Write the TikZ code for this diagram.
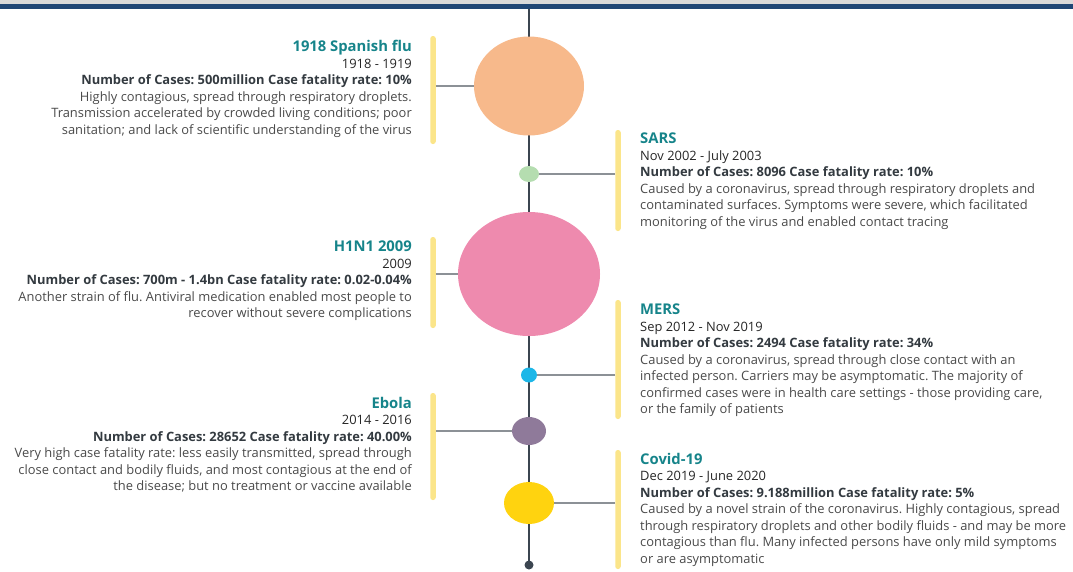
\documentclass[tikz,border=0pt]{standalone}
\usepackage{fontspec}
\setmainfont{Open Sans}
\usetikzlibrary{shapes.geometric}
\frenchspacing
\definecolor{navy}{HTML}{1F4675}
\definecolor{topgray}{HTML}{D9D9D9}
\definecolor{tline}{HTML}{3B4550}
\definecolor{conncol}{HTML}{8C9196}
\definecolor{barcol}{HTML}{FBE58A}
\definecolor{titlecol}{HTML}{16848A}
\definecolor{bodycol}{HTML}{4A4A4A}
\definecolor{datecol}{HTML}{262626}
\definecolor{numcol}{HTML}{333A40}
\definecolor{flucol}{HTML}{F7B98B}
\definecolor{sarscol}{HTML}{B5DDB0}
\definecolor{hcol}{HTML}{EE8AAE}
\definecolor{merscol}{HTML}{1DB7E8}
\definecolor{ebolacol}{HTML}{8F7A9A}
\definecolor{covidcol}{HTML}{FFD30F}
\newcommand{\ttl}[1]{{\color{titlecol}\fontsize{14.8}{16}\selectfont\bfseries #1}}
\newcommand{\dte}[1]{{\color{datecol}#1}}
\newcommand{\num}[1]{{\color{numcol}\bfseries #1}}
\tikzset{
  blob/.style={ellipse, inner sep=0pt, draw=none},
  barbox/.style={draw=none, fill=barcol, rounded corners=2.5pt, minimum width=5.5pt, inner sep=0pt},
  conn/.style={draw=conncol, line width=1.2pt},
  txtL/.style={anchor=north east, align=right, inner sep=0pt, text=bodycol, font=\fontsize{12.9}{16.5}\selectfont},
  txtR/.style={anchor=north west, align=left, inner sep=0pt, text=bodycol, font=\fontsize{12.9}{16.5}\selectfont},
}
\begin{document}
\begin{tikzpicture}[x=1pt,y=-1pt]
\useasboundingbox (0,0) rectangle (1073,571);
\fill[topgray] (0,0) rectangle (1073,4);
\fill[navy] (0,4) rectangle (1073,8.5);
% timeline
\coordinate (top) at (529,8.5);
\coordinate (bottom) at (529,565);
\draw[tline, line width=2pt] (top) -- (bottom);
% circles
\node[blob, fill=flucol, minimum width=110pt, minimum height=99pt] (flu) at (529,86) {};
\node[blob, fill=sarscol, minimum width=20pt, minimum height=16pt] (sars) at (529,174) {};
\node[blob, fill=hcol, minimum width=142pt, minimum height=124pt] (h1n1) at (529,274) {};
\node[blob, fill=merscol, minimum width=16pt, minimum height=15pt] (mers) at (529,375) {};
\node[blob, fill=ebolacol, minimum width=34pt, minimum height=28pt] (ebola) at (529,431) {};
\node[blob, fill=covidcol, minimum width=50pt, minimum height=42pt] (covid) at (529,503) {};
\node[circle, fill=tline, minimum size=9pt, inner sep=0pt] (enddot) at (bottom) {};
% bars
\node[barbox, minimum height=108pt] (fbar) at (433,90) {};
\node[barbox, minimum height=101pt] (sbar) at (618,180.5) {};
\node[barbox, minimum height=91pt] (hbar) at (433,282.5) {};
\node[barbox, minimum height=119pt] (mbar) at (618,359.5) {};
\node[barbox, minimum height=107pt] (ebar) at (433,446.5) {};
\node[barbox, minimum height=119pt] (cbar) at (618,509.5) {};
% connectors
\draw[conn] (fbar.east |- flu) -- (flu);
\draw[conn] (sbar.west |- sars) -- (sars);
\draw[conn] (hbar.east |- h1n1) -- (h1n1);
\draw[conn] (mbar.west |- mers) -- (mers);
\draw[conn] (ebar.east |- ebola) -- (ebola);
\draw[conn] (cbar.west |- covid) -- (covid);
% texts
\node[txtL] (tflu) at (412,40) {\ttl{1918 Spanish flu}\\
\dte{1918 - 1919}\\
\num{Number of Cases: 500million Case fatality rate: 10\%}\\
Highly contagious, spread through respiratory droplets.\\
Transmission accelerated by crowded living conditions; poor\\
sanitation; and lack of scientific understanding of the virus};
\node[txtR] (tsars) at (640,133) {\ttl{SARS}\\
\dte{Nov 2002 - July 2003}\\
\num{Number of Cases: 8096 Case fatality rate: 10\%}\\
Caused by a coronavirus, spread through respiratory droplets and\\
contaminated surfaces. Symptoms were severe, which facilitated\\
monitoring of the virus and enabled contact tracing};
\node[txtL] (th1n1) at (412,241) {\ttl{H1N1 2009}\\
\dte{2009}\\
\num{Number of Cases: 700m - 1.4bn Case fatality rate: 0.02-0.04\%}\\
Another strain of flu. Antiviral medication enabled most people to\\
recover without severe complications};
\node[txtR] (tmers) at (640,304) {\ttl{MERS}\\
\dte{Sep 2012 - Nov 2019}\\
\num{Number of Cases: 2494 Case fatality rate: 34\%}\\
Caused by a coronavirus, spread through close contact with an\\
infected person. Carriers may be asymptomatic. The majority of\\
confirmed cases were in health care settings - those providing care,\\
or the family of patients};
\node[txtL] (tebola) at (412,397) {\ttl{Ebola}\\
\dte{2014 - 2016}\\
\num{Number of Cases: 28652 Case fatality rate: 40.00\%}\\
Very high case fatality rate: less easily transmitted, spread through\\
close contact and bodily fluids, and most contagious at the end of\\
the disease; but no treatment or vaccine available};
\node[txtR] (tcovid) at (640,453) {\ttl{Covid-19}\\
\dte{Dec 2019 - June 2020}\\
\num{Number of Cases: 9.188million Case fatality rate: 5\%}\\
Caused by a novel strain of the coronavirus. Highly contagious, spread\\
through respiratory droplets and other bodily fluids - and may be more\\
contagious than flu. Many infected persons have only mild symptoms\\
or are asymptomatic};
\end{tikzpicture}
\end{document}
